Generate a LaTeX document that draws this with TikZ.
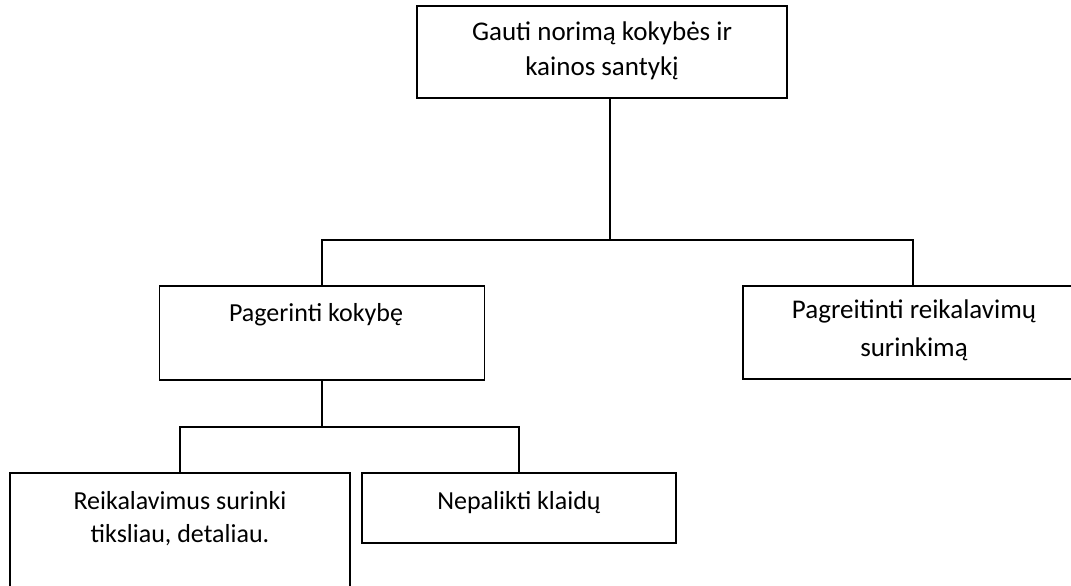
\documentclass[tikz,border=0pt]{standalone}
\usepackage{fontspec}
\setmainfont{Carlito}
\begin{document}
\begin{tikzpicture}[x=1pt,y=-1pt,
  box/.style={draw=black, line width=1.6pt, rectangle, inner sep=0pt},
  txt/.style={anchor=base, inner sep=0pt, font=\fontsize{26}{32}\selectfont},
  bigtxt/.style={txt, font=\fontsize{27}{33}\selectfont},
  link/.style={draw=black, line width=1.6pt}]
\useasboundingbox (0,0) rectangle (1071,586);
\fill[white] (0,0) rectangle (1071,586);

% boxes
\node[box, minimum width=370pt, minimum height=92pt] (goal) at (602,52) {};
\node[box, minimum width=325pt, minimum height=94pt] (quality) at (322,333) {};
\node[box, minimum width=340pt, minimum height=93pt] (speed) at (913,332.5) {};
\node[box, minimum width=340pt, minimum height=130pt] (req) at (180,538) {};
\node[box, minimum width=314pt, minimum height=70pt] (nofault) at (519,508) {};

% texts
\node[bigtxt] (goalA) at (602,41) {Gauti norimą kokybės ir};
\node[bigtxt] (goalB) at (602,75) {kainos santykį};
\node[txt] (qualityA) at (316,321) {Pagerinti kokybę};
\node[bigtxt] (speedA) at (914,318) {Pagreitinti reikalavimų};
\node[bigtxt] (speedB) at (914,356) {surinkimą};
\node[txt] (reqA) at (180,509) {Reikalavimus surinki};
\node[txt] (reqB) at (180,542) {tiksliau, detaliau.};
\node[txt] (nofaultA) at (519,509) {Nepalikti klaidų};

% junctions
\coordinate (j1) at (610,240);
\coordinate (j2) at (322,427);

% connectors
\draw[link] (j1 |- goal.south) -- (j1);
\draw[link] (quality.north) |- (j1) -| (speed.north);
\draw[link] (quality.south) -- (j2);
\draw[link] (req.north) |- (j2) -| (nofault.north);
\end{tikzpicture}
\end{document}
